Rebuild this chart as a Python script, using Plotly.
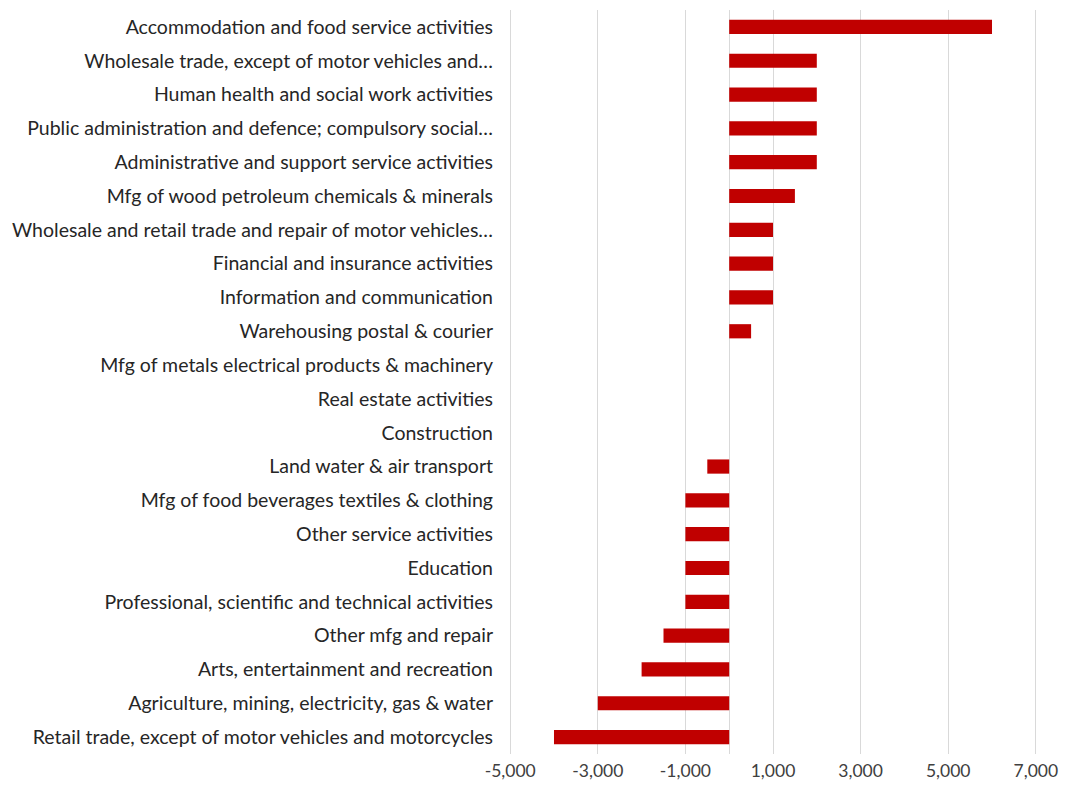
import plotly.graph_objects as go

categories = [
    "Accommodation and food service activities",
    "Wholesale trade, except of motor vehicles and…",
    "Human health and social work activities",
    "Public administration and defence; compulsory social…",
    "Administrative and support service activities",
    "Mfg of wood petroleum chemicals & minerals",
    "Wholesale and retail trade and repair of motor vehicles…",
    "Financial and insurance activities",
    "Information and communication",
    "Warehousing postal & courier",
    "Mfg of metals electrical products & machinery",
    "Real estate activities",
    "Construction",
    "Land water & air transport",
    "Mfg of food beverages textiles & clothing",
    "Other service activities",
    "Education",
    "Professional, scientific and technical activities",
    "Other mfg and repair",
    "Arts, entertainment and recreation",
    "Agriculture, mining, electricity, gas & water",
    "Retail trade, except of motor vehicles and motorcycles",
]
values = [6000, 2000, 2000, 2000, 2000, 1500, 1000, 1000, 1000, 500,
          0, 0, 0, -500, -1000, -1000, -1000, -1000, -1500, -2000, -3000, -4000]
tick_vals = [-5000, -3000, -1000, 1000, 3000, 5000, 7000]
tick_text = ["-5,000", "-3,000", "-1,000", "1,000", "3,000", "5,000", "7,000"]

fig = go.Figure(go.Bar(
    x=values, y=categories, orientation="h",
    marker=dict(color="#C00000", line=dict(width=0)),
    width=0.42,
))

fig.update_layout(
    width=1060, height=774,
    margin=dict(l=500, r=30, t=2, b=28, autoexpand=False),
    plot_bgcolor="white", paper_bgcolor="white",
    font=dict(family="Lato, Open Sans, sans-serif", size=18, color="#262626"),
    showlegend=False,
)
fig.update_xaxes(
    range=[-5050, 7050], tickvals=tick_vals, ticktext=tick_text,
    showgrid=True, gridcolor="#D9D9D9", gridwidth=1,
    zeroline=True, zerolinecolor="#D9D9D9", zerolinewidth=1,
    showline=False, ticks="", ticklabelstandoff=4,
    tickfont=dict(size=17.5, color="#404040"),
)
fig.update_yaxes(
    categoryorder="array", categoryarray=categories[::-1],
    autorange=True, showgrid=False, showline=False, ticks="",
    ticklabelstandoff=14, tickfont=dict(size=19.5, color="#262626"),
)

fig.write_html("out.html")
